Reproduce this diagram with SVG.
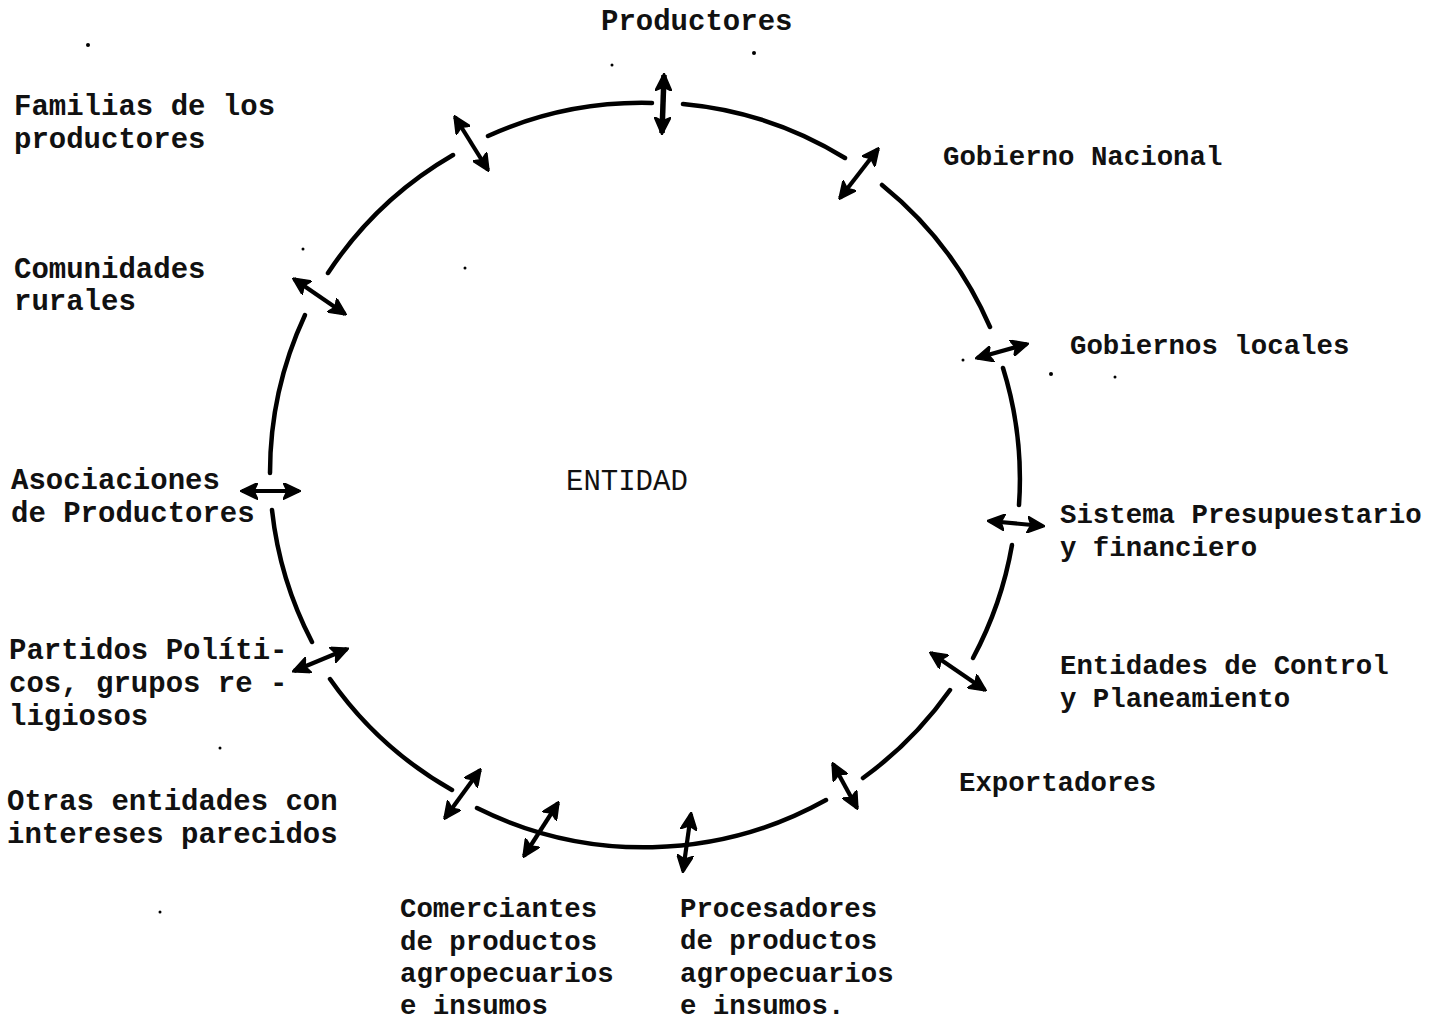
<svg xmlns="http://www.w3.org/2000/svg" width="1431" height="1020" viewBox="0 0 1431 1020">
<style>
text{font-family:"Liberation Mono","Courier New",monospace;font-weight:bold;fill:#111}
.L{font-size:29px}
.R{font-size:27.4px}
.c{font-weight:normal}
.arc{fill:none;stroke:#000;stroke-width:4.5;stroke-linecap:round}
.ar{fill:none;stroke:#000;stroke-width:4.2;marker-start:url(#ah);marker-end:url(#ah)}
.dot{fill:#000}
</style>
<defs>
<marker id="ah" viewBox="0 0 18 17" refX="16" refY="8.5" markerWidth="18" markerHeight="17" markerUnits="userSpaceOnUse" orient="auto-start-reverse">
<path d="M0,0 L18,8.5 L0,17 L4,8.5 z" fill="#000" stroke="#000" stroke-width="1.5" stroke-linejoin="round"/>
</marker>
</defs>
<g id="circle">
<path class="arc" d="M328,273 A374,374 0 0 1 453,155"/>
<path class="arc" d="M488,136 A374,374 0 0 1 652,103"/>
<path class="arc" d="M683,104 A374,374 0 0 1 845,158"/>
<path class="arc" d="M882,185 A374,374 0 0 1 990,327"/>
<path class="arc" d="M1003,368 A374,374 0 0 1 1019,505"/>
<path class="arc" d="M1012,545 A374,374 0 0 1 973,658"/>
<path class="arc" d="M950,690 A374,374 0 0 1 863,778"/>
<path class="arc" d="M826,800 A374,374 0 0 1 477,808"/>
<path class="arc" d="M452,790 A374,374 0 0 1 330,679"/>
<path class="arc" d="M312,642 A374,374 0 0 1 272,510"/>
<path class="arc" d="M270,473 A374,374 0 0 1 305,315"/>
</g>
<g id="connectors">
<line class="ar" x1="664" y1="75" x2="662" y2="133" style="stroke-width:5.5"/>
<line class="ar" x1="455" y1="117" x2="488" y2="170"/>
<line class="ar" x1="878" y1="149" x2="840" y2="198"/>
<line class="ar" x1="294" y1="279" x2="345" y2="314"/>
<line class="ar" x1="977" y1="358" x2="1027" y2="344"/>
<line class="ar" x1="242" y1="491" x2="299" y2="491"/>
<line class="ar" x1="989" y1="521" x2="1043" y2="526"/>
<line class="ar" x1="294" y1="671" x2="347" y2="649"/>
<line class="ar" x1="931" y1="653" x2="985" y2="690"/>
<line class="ar" x1="445" y1="818" x2="480" y2="770"/>
<line class="ar" x1="524" y1="856" x2="558" y2="803"/>
<line class="ar" x1="683" y1="871" x2="691" y2="814"/>
<line class="ar" x1="833" y1="764" x2="857" y2="808"/>
</g>
<g id="specks">
<circle class="dot" cx="88" cy="45" r="2"/>
<circle class="dot" cx="612" cy="65" r="1.5"/>
<circle class="dot" cx="754" cy="53" r="2"/>
<circle class="dot" cx="465" cy="268" r="1.5"/>
<circle class="dot" cx="303" cy="249" r="1.5"/>
<circle class="dot" cx="963" cy="360" r="1.5"/>
<circle class="dot" cx="1051" cy="374" r="2"/>
<circle class="dot" cx="1115" cy="377" r="1.5"/>
<circle class="dot" cx="220" cy="748" r="1.5"/>
<circle class="dot" cx="160" cy="912" r="1.5"/>
</g>
<g id="n-productores"><text class="L" x="601" y="30">Productores</text></g>
<g id="n-familias"><text class="L" x="14" y="115">Familias de los</text><text class="L" x="14" y="148">productores</text></g>
<g id="n-gobierno-nacional"><text class="R" x="943" y="165">Gobierno Nacional</text></g>
<g id="n-comunidades"><text class="L" x="14" y="278">Comunidades</text><text class="L" x="14" y="310">rurales</text></g>
<g id="n-gobiernos-locales"><text class="R" x="1070" y="354">Gobiernos locales</text></g>
<g id="n-entidad"><text class="L c" x="566" y="490">ENTIDAD</text></g>
<g id="n-asociaciones"><text class="L" x="11" y="489">Asociaciones</text><text class="L" x="11" y="522">de Productores</text></g>
<g id="n-sistema"><text class="R" x="1060" y="523">Sistema Presupuestario</text><text class="R" x="1060" y="556">y financiero</text></g>
<g id="n-partidos"><text class="L" x="9" y="659">Partidos Políti-</text><text class="L" x="9" y="692">cos, grupos re -</text><text class="L" x="9" y="725">ligiosos</text></g>
<g id="n-entidades-control"><text class="R" x="1060" y="674">Entidades de Control</text><text class="R" x="1060" y="707">y Planeamiento</text></g>
<g id="n-exportadores"><text class="R" x="959" y="791">Exportadores</text></g>
<g id="n-otras"><text class="L" x="7" y="810">Otras entidades con</text><text class="L" x="7" y="843">intereses parecidos</text></g>
<g id="n-comerciantes"><text class="R" x="400" y="917">Comerciantes</text><text class="R" x="400" y="950">de productos</text><text class="R" x="400" y="982">agropecuarios</text><text class="R" x="400" y="1014">e insumos</text></g>
<g id="n-procesadores"><text class="R" x="680" y="917">Procesadores</text><text class="R" x="680" y="949">de productos</text><text class="R" x="680" y="982">agropecuarios</text><text class="R" x="680" y="1014">e insumos.</text></g>
</svg>
